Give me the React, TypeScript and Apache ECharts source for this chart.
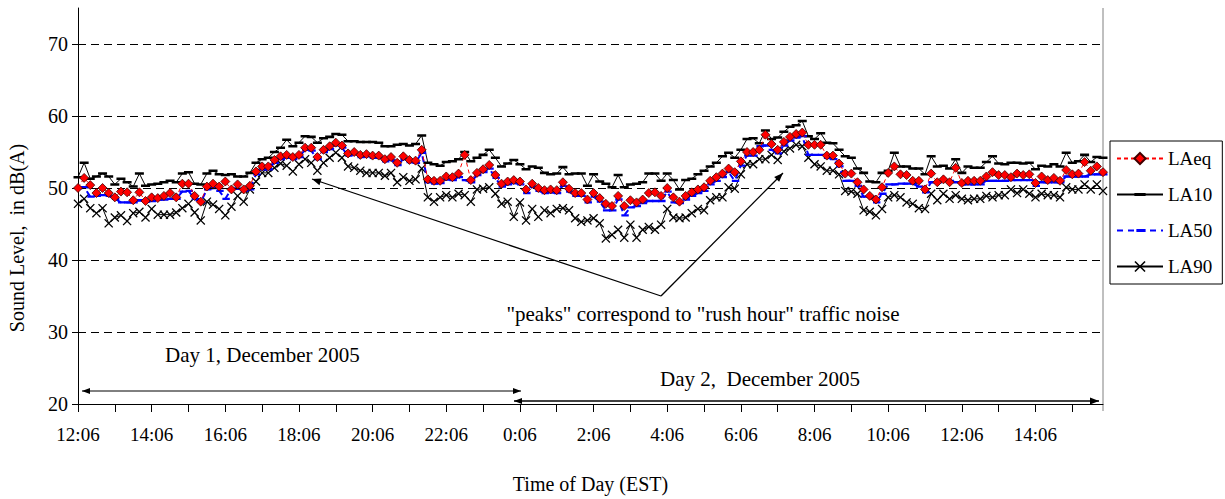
import React, { useEffect, useRef } from "react";
import * as echarts from "echarts";

// ---- categories: every 10 minutes from 12:06 (day 1) to 15:56 (day 2)
const START_MIN = 12 * 60 + 6;
const STEP_MIN = 10;
const N_POINTS = 168;
const categories: string[] = [];
for (let i = 0; i < N_POINTS; i++) {
  const t = (START_MIN + i * STEP_MIN) % 1440;
  const h = Math.floor(t / 60);
  const m = t % 60;
  categories.push(`${h}:${m < 10 ? "0" + m : m}`);
}

// ---- series values (dB(A))
const LAeq = [
  50.0, 51.4, 50.4, 49.3, 50.0, 49.3, 48.7, 49.5, 49.4, 48.3, 49.4, 48.2, 48.7, 48.6, 48.9, 49.3, 48.7, 50.6, 50.6, 48.9, 48.1, 50.2, 50.6, 50.2, 50.9, 49.8, 50.5, 49.8, 50.3, 52.3, 53.0, 53.0, 53.9, 54.4,
  54.6, 54.3, 54.6, 55.6, 55.6, 54.3, 55.3, 55.8, 56.3, 55.9, 54.8, 55.0, 54.6, 54.7, 54.5, 54.5, 54.0, 54.3, 53.5, 54.4, 53.9, 53.8, 55.3, 51.2, 51.0, 51.0, 51.6, 51.5, 52.0, 54.6, 51.1, 52.1, 52.6, 53.2,
  51.8, 50.6, 50.9, 51.1, 50.9, 49.8, 50.6, 50.0, 49.7, 49.8, 49.7, 50.8, 49.9, 49.3, 49.3, 48.4, 49.3, 48.6, 47.8, 47.5, 48.9, 47.5, 48.3, 48.0, 48.4, 49.3, 49.4, 48.9, 50.0, 48.7, 48.1, 48.9, 49.4,
  49.8, 50.1, 51.0, 51.5, 52.0, 52.7, 52.2, 53.7, 55.0, 55.0, 55.3, 57.4, 56.1, 55.3, 56.4, 57.1, 57.5, 57.7, 56.0, 56.0, 56.0, 54.5, 54.5, 53.4, 52.0, 52.0, 50.8, 49.8, 48.9, 48.4, 50.1, 52.1, 53.0, 51.9,
  51.8, 51.0, 51.0, 49.8, 52.0, 50.8, 51.2, 50.8, 52.8, 50.7, 51.0, 51.0, 51.0, 51.6, 52.2, 51.8, 51.8, 51.5, 52.0, 51.8, 51.9, 50.7, 51.6, 51.1, 51.4, 51.0, 52.5, 51.9, 52.0, 53.6, 52.4, 53.0, 52.2,
];
const LA10 = [
  51.5, 53.5, 51.3, 51.6, 52.0, 51.6, 50.5, 51.3, 50.8, 50.2, 52.0, 50.3, 50.5, 50.6, 50.8, 51.0, 50.8, 52.0, 52.2, 50.6, 50.5, 52.0, 52.4, 51.9, 51.8, 51.9, 51.6, 51.6, 52.1, 53.5, 54.0, 54.2, 55.0, 55.6,
  56.7, 55.8, 56.3, 57.2, 57.1, 56.3, 56.9, 57.1, 57.5, 57.4, 56.5, 56.5, 56.4, 56.4, 56.4, 56.3, 55.8, 55.8, 56.0, 56.1, 55.9, 56.1, 57.3, 53.5, 53.3, 53.1, 53.6, 53.7, 54.0, 55.0, 53.7, 54.2, 54.6, 55.3,
  54.2, 53.0, 53.4, 53.9, 53.3, 52.6, 53.0, 52.8, 52.1, 51.9, 52.0, 52.9, 51.9, 52.0, 52.0, 50.3, 51.9, 50.9, 50.6, 50.1, 51.8, 50.1, 50.5, 50.6, 50.8, 52.0, 52.0, 51.0, 52.0, 51.1, 49.8, 51.1, 51.3,
  51.9, 52.4, 53.0, 53.5, 54.4, 54.9, 54.2, 55.3, 56.8, 56.9, 56.2, 58.0, 56.8, 57.0, 57.8, 58.5, 58.7, 59.3, 57.2, 56.8, 57.6, 56.3, 56.2, 55.3, 54.4, 54.2, 52.7, 52.1, 50.9, 50.8, 52.1, 52.4, 54.9, 53.0,
  53.0, 52.7, 52.7, 51.9, 54.4, 53.0, 53.1, 52.7, 54.0, 52.1, 53.0, 52.8, 52.8, 53.6, 54.4, 53.4, 53.3, 53.5, 53.5, 53.4, 53.5, 52.6, 53.1, 53.0, 53.3, 53.0, 54.9, 53.5, 53.7, 54.6, 53.6, 54.3, 54.2,
];
const LA50 = [
  50.0, 50.1, 48.8, 48.9, 49.0, 48.9, 48.5, 48.0, 48.0, 48.0, 48.3, 48.1, 48.2, 48.4, 48.4, 48.5, 48.5, 49.5, 49.6, 48.5, 48.0, 49.8, 50.0, 49.6, 48.5, 49.9, 49.9, 49.6, 49.8, 51.9, 52.6, 52.6, 53.5, 54.0,
  54.2, 54.0, 54.3, 55.3, 55.2, 54.0, 55.0, 55.4, 56.0, 55.6, 54.5, 54.7, 54.3, 54.4, 54.2, 54.2, 53.7, 53.9, 53.2, 54.0, 53.6, 53.5, 54.9, 50.8, 50.6, 50.7, 51.2, 51.1, 51.5, 51.1, 50.8, 51.8, 52.2, 52.7,
  51.4, 50.2, 50.5, 50.7, 50.5, 49.3, 50.2, 49.6, 49.3, 49.4, 49.3, 50.3, 49.5, 48.9, 48.9, 48.0, 48.8, 48.1, 46.9, 46.9, 48.4, 46.2, 47.3, 47.5, 47.9, 48.2, 48.2, 48.2, 49.5, 48.0, 47.9, 48.4, 48.9,
  49.3, 49.6, 50.5, 51.0, 51.5, 52.2, 51.0, 53.1, 54.5, 54.5, 55.8, 55.9, 55.3, 54.8, 55.9, 56.6, 57.0, 57.2, 54.6, 54.6, 54.6, 54.2, 54.0, 53.0, 51.0, 51.0, 50.3, 48.8, 48.8, 48.0, 49.2, 50.5, 50.5, 50.6,
  50.6, 50.6, 50.2, 49.4, 50.8, 50.8, 51.0, 51.0, 50.8, 50.5, 50.5, 50.5, 50.5, 51.0, 51.0, 51.0, 51.0, 51.1, 51.1, 51.1, 51.1, 50.3, 50.8, 50.8, 50.8, 50.8, 51.6, 51.6, 51.6, 51.6, 51.9, 51.9, 51.9,
];
const LA90 = [
  47.8, 48.5, 47.2, 46.5, 47.2, 45.1, 45.9, 46.2, 45.4, 46.5, 46.7, 45.9, 47.1, 46.3, 46.3, 46.3, 46.6, 47.2, 47.8, 46.6, 45.5, 48.1, 47.7, 47.1, 46.2, 47.4, 48.9, 48.1, 49.8, 50.9, 52.1, 52.1, 52.8, 53.4,
  53.1, 52.3, 53.3, 54.0, 53.5, 52.4, 53.5, 54.2, 54.9, 54.2, 53.0, 52.8, 52.4, 52.1, 52.1, 52.1, 51.7, 52.1, 50.8, 51.5, 51.0, 51.2, 52.7, 48.7, 48.1, 48.7, 49.0, 48.7, 49.2, 49.0, 48.1, 49.8, 49.9, 50.1,
  49.2, 47.8, 48.1, 46.0, 48.0, 45.5, 47.1, 46.0, 46.9, 46.5, 47.1, 47.2, 46.9, 45.8, 45.3, 45.5, 45.8, 45.1, 43.0, 43.5, 44.2, 43.1, 44.9, 43.1, 44.2, 44.6, 44.2, 44.9, 47.1, 45.9, 45.8, 45.9, 46.5,
  47.1, 46.9, 48.3, 48.7, 48.7, 50.1, 49.9, 51.9, 53.3, 53.3, 54.0, 54.0, 54.6, 53.9, 55.1, 55.5, 56.0, 55.8, 54.2, 53.3, 53.0, 52.4, 52.4, 51.9, 49.6, 49.5, 49.2, 46.9, 46.7, 46.2, 47.1, 48.7, 49.0, 48.7,
  48.0, 47.8, 47.2, 47.1, 49.2, 48.3, 49.2, 48.5, 49.0, 48.5, 48.3, 48.5, 48.5, 48.9, 48.7, 49.0, 49.0, 49.8, 49.3, 49.8, 49.2, 48.7, 49.2, 49.0, 49.0, 48.7, 50.1, 49.8, 49.8, 50.5, 49.8, 50.5, 49.6,
];

const SERIES_NAMES = ["LAeq", "LA10", "LA50", "LA90"];
const Y_MIN = 20;
const Y_MAX = 75;
const Y_TICKS = [20, 30, 40, 50, 60, 70];
const GRID_VALUES = [30, 40, 50, 60, 70];

const ANNOT_PEAKS = '"peaks" correspond to "rush hour" traffic noise';
const ANNOT_DAY1 = "Day 1, December 2005";
const ANNOT_DAY2 = "Day 2,\u00a0 December 2005";
const X_TITLE = "Time of Day (EST)";
const Y_TITLE = "Sound Level,\u00a0 in dB(A)";

const FONT = "'Liberation Serif', 'Times New Roman', serif";
const X_MARK = "path://M0,1 L1,0 L5,4 L9,0 L10,1 L6,5 L10,9 L9,10 L5,6 L1,10 L0,9 L4,5 Z";
const DASH10 = "path://M0,0 L0.01,0 M0,3.6 L10,3.6 L10,6.4 L0,6.4 Z M0,10 L0.01,10";
const DASH50 = "path://M0,0 L0.01,0 M1.5,3.7 L8.5,3.7 L8.5,6.3 L1.5,6.3 Z M0,10 L0.01,10";

function head(tx: number, ty: number, fx: number, fy: number, L = 9, W = 3.5) {
  const dx = tx - fx;
  const dy = ty - fy;
  const len = Math.hypot(dx, dy);
  const ux = dx / len;
  const uy = dy / len;
  const bx = tx - ux * L;
  const by = ty - uy * L;
  return {
    type: "polygon",
    silent: true,
    shape: { points: [[tx, ty], [bx - uy * W, by + ux * W], [bx + uy * W, by - ux * W]] },
    style: { fill: "#000" },
  };
}
function seg(x1: number, y1: number, x2: number, y2: number, w = 1.3) {
  return { type: "line", silent: true, shape: { x1, y1, x2, y2 }, style: { stroke: "#000", lineWidth: w } };
}

export default function App() {
  const ref = useRef<HTMLDivElement>(null);
  useEffect(() => {
    if (!ref.current) return;
    const chart = echarts.init(ref.current, undefined, { renderer: "svg" });
    const option: any = {
      animation: false,
      backgroundColor: "#fff",
      textStyle: { fontFamily: FONT, color: "#000" },
      grid: { left: 78, right: 122, top: 8, bottom: 88, containLabel: false },
      legend: {
        orient: "vertical",
        left: 1110,
        top: 141,
        data: SERIES_NAMES,
        itemWidth: 46,
        itemHeight: 14,
        itemGap: 17,
        padding: [8, 10, 8, 6],
        borderColor: "#000",
        borderWidth: 1,
        backgroundColor: "#fff",
        textStyle: { fontFamily: FONT, fontSize: 19, color: "#000" },
      },
      xAxis: {
        type: "category",
        data: categories,
        boundaryGap: false,
        name: X_TITLE,
        nameLocation: "middle",
        nameGap: 70,
        nameTextStyle: { fontFamily: FONT, fontSize: 20, color: "#000" },
        axisLine: { lineStyle: { color: "#000", width: 1 } },
        axisTick: { show: true, interval: 5, length: 8, lineStyle: { color: "#000" } },
        axisLabel: { interval: 11, margin: 21, fontFamily: FONT, fontSize: 19, color: "#000" },
        splitLine: { show: false },
      },
      yAxis: {
        type: "value",
        min: Y_MIN,
        max: Y_MAX,
        interval: 10,
        axisLine: { show: true, lineStyle: { color: "#000", width: 1 } },
        axisTick: { show: true, length: 6, lineStyle: { color: "#000" }, customValues: Y_TICKS },
        axisLabel: {
          margin: 10,
          fontFamily: FONT,
          fontSize: 20,
          color: "#000",
          customValues: Y_TICKS,
        },
        splitLine: { show: false },
      },
      series: [
        {
          name: "LAeq",
          type: "line",
          data: LAeq,
          z: 5,
          showAllSymbol: true,
          symbol: "diamond",
          symbolSize: 9,
          itemStyle: { color: "#FF0000", borderColor: "#400000", borderWidth: 0.8 },
          lineStyle: { color: "#FF0000", width: 1, type: [4, 3] },
        },
        {
          name: "LA10",
          type: "line",
          data: LA10,
          z: 3,
          showAllSymbol: true,
          symbol: DASH10,
          symbolSize: 9,
          itemStyle: { color: "#000" },
          lineStyle: { color: "#000", width: 1 },
        },
        {
          name: "LA50",
          type: "line",
          data: LA50,
          z: 4,
          showAllSymbol: true,
          symbol: DASH50,
          symbolSize: 9,
          itemStyle: { color: "#0000FF" },
          lineStyle: { color: "#0000FF", width: 2, type: [6, 5] },
        },
        {
          name: "LA90",
          type: "line",
          data: LA90,
          z: 2,
          showAllSymbol: true,
          symbol: X_MARK,
          symbolSize: 9,
          itemStyle: { color: "#000" },
          lineStyle: { color: "#000", width: 1 },
          markLine: {
            silent: true,
            symbol: ["none", "none"],
            label: { show: false },
            lineStyle: { color: "#000", width: 1, type: [8, 5] },
            data: GRID_VALUES.map((v) => ({ yAxis: v })),
          },
        },
      ],
      graphic: [
        // right border of plot area
        { type: "line", silent: true, shape: { x1: 1103, y1: 8, x2: 1103, y2: 411 }, style: { stroke: "#808080", lineWidth: 1 } },
        {
          type: "text",
          silent: true,
          x: 17,
          y: 238,
          rotation: Math.PI / 2,
          style: { text: Y_TITLE, font: `20px ${FONT}`, fill: "#000", textAlign: "center", textVerticalAlign: "middle" },
        },
        {
          type: "text",
          silent: true,
          x: 703,
          y: 314,
          style: { text: ANNOT_PEAKS, font: `21px ${FONT}`, fill: "#000", textAlign: "center", textVerticalAlign: "middle" },
        },
        seg(661, 296, 312, 179),
        head(312, 179, 661, 296),
        seg(661, 296, 783, 173),
        head(783, 173, 661, 296),
        {
          type: "text",
          silent: true,
          x: 165,
          y: 355,
          style: { text: ANNOT_DAY1, font: `21px ${FONT}`, fill: "#000", textAlign: "left", textVerticalAlign: "middle" },
        },
        seg(82, 391, 521, 391, 1),
        head(82, 391, 521, 391, 8, 3),
        head(521, 391, 82, 391, 8, 3),
        {
          type: "text",
          silent: true,
          x: 660,
          y: 379,
          style: { text: ANNOT_DAY2, font: `21px ${FONT}`, fill: "#000", textAlign: "left", textVerticalAlign: "middle" },
        },
        seg(514, 401, 1099, 401, 1.5),
        head(514, 401, 1099, 401, 8, 3),
        head(1099, 401, 514, 401, 9, 3.5),
      ],
    };
    chart.setOption(option);
    return () => chart.dispose();
  }, []);
  return (
    <div
      ref={ref}
      style={{ position: "fixed", left: 0, top: 0, width: 1225, height: 499, background: "#fff" }}
    />
  );
}
